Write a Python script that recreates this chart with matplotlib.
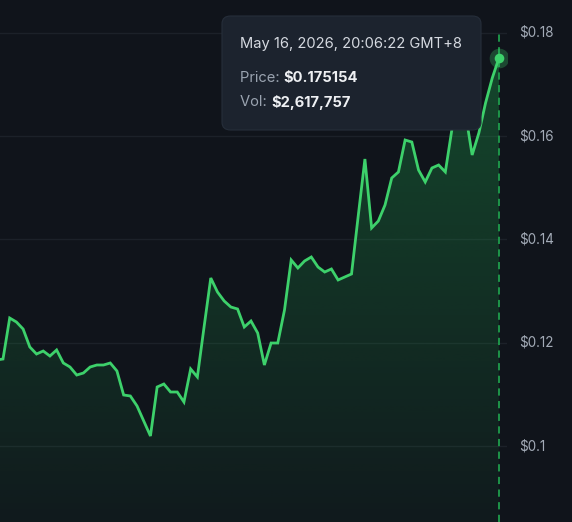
import numpy as np
import matplotlib
matplotlib.use("Agg")
import matplotlib.pyplot as plt
from matplotlib.patches import FancyBboxPatch

# price series, last point is the hovered one
prices = [0.11666, 0.11685, 0.12479, 0.12402, 0.12266, 0.11918, 0.11782, 0.11840, 0.11743,
          0.11860, 0.11608, 0.11530, 0.11375, 0.11414, 0.11530, 0.11569, 0.11569, 0.11608,
          0.11453, 0.10988, 0.10969, 0.10775, 0.10484, 0.10194, 0.11143, 0.11201, 0.11046,
          0.11046, 0.10852, 0.11492, 0.11337, 0.12305, 0.13254, 0.12983, 0.12809, 0.12692,
          0.12654, 0.12305, 0.12421, 0.12189, 0.11569, 0.11995, 0.11995, 0.12634, 0.13603,
          0.13448, 0.13584, 0.13661, 0.13467, 0.13370, 0.13429, 0.13216, 0.13274, 0.13332,
          0.14455, 0.15559, 0.14223, 0.14358, 0.14668, 0.15191, 0.15308, 0.15927, 0.15888,
          0.15346, 0.15114, 0.15385, 0.15443, 0.15308, 0.16150, 0.16500, 0.16450, 0.15637,
          0.16063, 0.16644, 0.17128, 0.175154]
price_ticks = [0.10, 0.12, 0.14, 0.16, 0.18]
tick_labels = ["$0.1", "$0.12", "$0.14", "$0.16", "$0.18"]
tip_date = "May 16, 2026, 20:06:22 GMT+8"
tip_price = "$0.175154"
tip_vol = "$2,617,757"

BG = "#10141b"
GREEN = "#3dd16b"
GRID = "#1c2129"
LABEL = "#a3abb7"

W, H = 572, 522
fig = plt.figure(figsize=(W / 100, H / 100), dpi=100, facecolor=BG)
ax = fig.add_axes([0, 0, 507 / W, 1])
ax.set_facecolor(BG)

x = np.arange(len(prices)) - 1
y = np.array(prices)
ymin, ymax = 0.08528, 0.18639
ax.set_xlim(-0.448, 75.2)
ax.set_ylim(ymin, ymax)

# gradient fill under the line
fill = ax.fill_between(x, y, ymin, color="none")
grad = np.linspace(0.04, 0.32, 256).reshape(-1, 1)
rgba = np.zeros((256, 1, 4))
rgba[..., :3] = matplotlib.colors.to_rgb("#1fb552")
rgba[..., 3] = grad
img = ax.imshow(rgba, extent=[x[0], x[-1], ymin, max(prices)], origin="lower",
                aspect="auto", zorder=1)
img.set_clip_path(fill.get_paths()[0], transform=ax.transData)

ax.plot(x, y, color=GREEN, lw=2.0, zorder=3, solid_joinstyle="miter")

# crosshair and hover marker
ax.vlines(x[-1], ymin, 0.18, colors="#1f9e4c", linestyles=(0, (4, 3)), lw=1.3, zorder=2)
ax.scatter([x[-1]], [y[-1]], s=200, color=GREEN, alpha=0.28, zorder=4, lw=0)
ax.scatter([x[-1]], [y[-1]], s=48, color=GREEN, zorder=5, lw=0)

for t in price_ticks:
    ax.axhline(t, color=GRID, lw=1, zorder=0)
for sp in ax.spines.values():
    sp.set_visible(False)
ax.set_xticks([])
ax.set_yticks([])

for t, lab in zip(price_ticks, tick_labels):
    fy = (t - ymin) / (ymax - ymin)
    fig.text(519 / W, fy, lab, color=LABEL, fontsize=9.7, family="Inter",
             va="center", ha="left")

# tooltip
box = FancyBboxPatch((222 / W, 1 - 130 / H), 259 / W, 114 / H,
                     boxstyle="round,pad=0,rounding_size=0.015",
                     transform=fig.transFigure, facecolor="#1c232e",
                     edgecolor="#262e3a", lw=0.8, zorder=10)
fig.patches.append(box)
fig.text(240 / W, 1 - 44 / H, tip_date, color="#d5d9e0", fontsize=10.6,
         family="Inter", va="center", ha="left", zorder=11)
t1 = fig.text(240 / W, 1 - 78 / H, "Price: ", color="#9aa3b0", fontsize=10.6,
              family="Inter", va="center", ha="left", zorder=11)
t2 = fig.text(240 / W, 1 - 102 / H, "Vol: ", color="#9aa3b0", fontsize=10.6,
              family="Inter", va="center", ha="left", zorder=11)
fig.canvas.draw()
r = fig.canvas.get_renderer()
for t, val in [(t1, tip_price), (t2, tip_vol)]:
    bb = t.get_window_extent(r)
    fig.text(bb.x1 / W, t.get_position()[1], val, color="#eef0f3", fontsize=10.6,
             family="Inter", weight="bold", va="center", ha="left", zorder=11)

fig.savefig("out.png", dpi=100, facecolor=BG)
